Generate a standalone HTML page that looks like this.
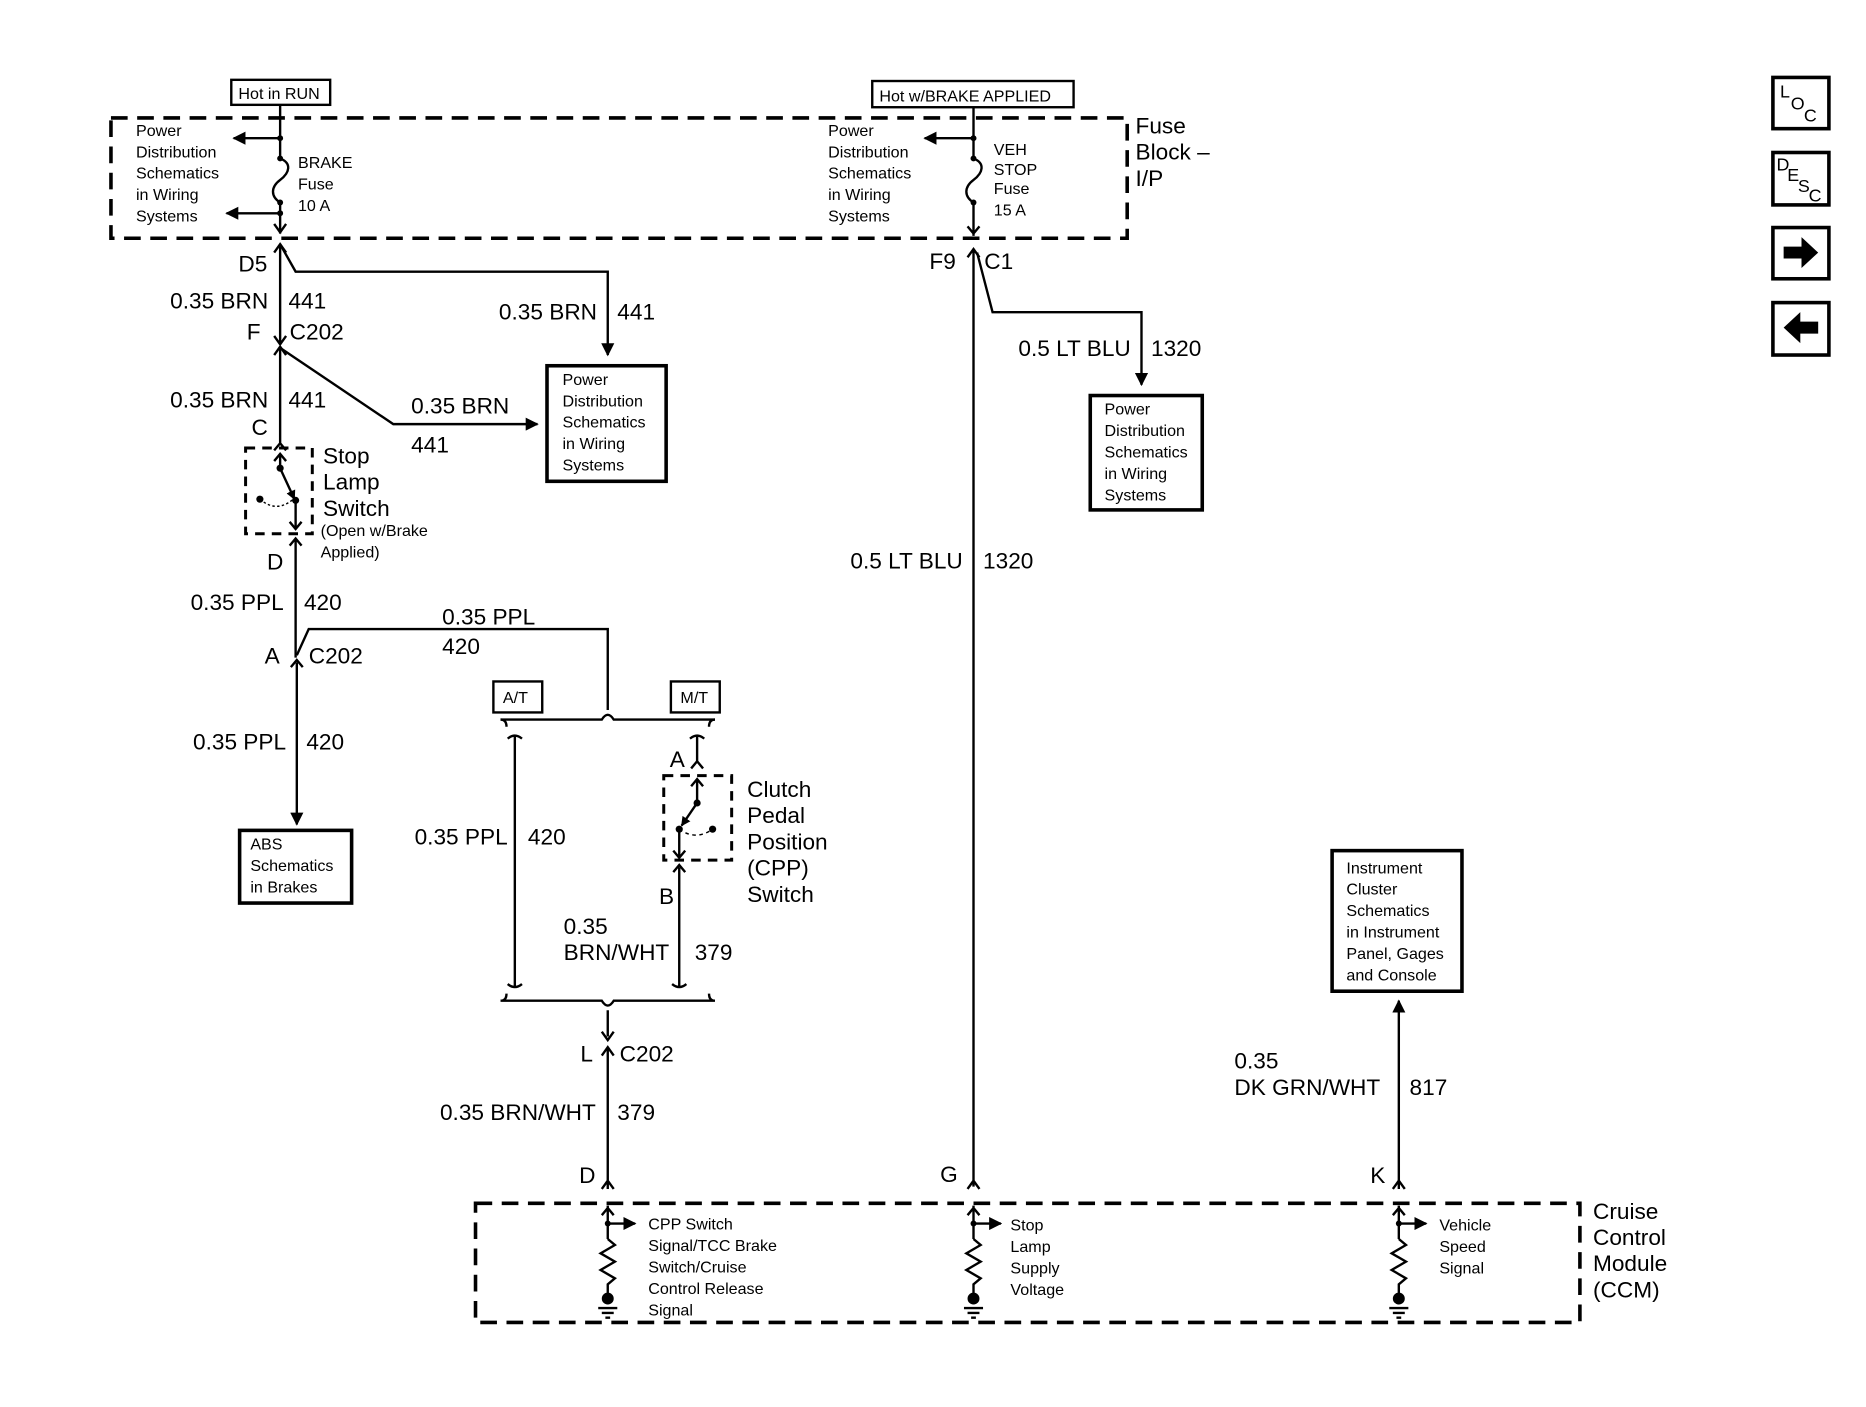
<!DOCTYPE html>
<html><head><meta charset="utf-8"><style>
html,body{margin:0;padding:0;background:#fff;}
svg{display:block;font-family:"Liberation Sans",Arial,sans-serif;}
.b{font-size:19px}
.s{font-size:13.5px}
</style></head><body>
<svg width="1866" height="1407" viewBox="0 0 1566 1181" xmlns="http://www.w3.org/2000/svg">
<defs>
<marker id="ar" viewBox="0 0 10 10" refX="9" refY="5" markerWidth="11" markerHeight="11" markerUnits="userSpaceOnUse" orient="auto"><path d="M0,0L10,5L0,10z"/></marker>
<marker id="sa" viewBox="0 0 10 10" refX="9" refY="5" markerWidth="8" markerHeight="8" markerUnits="userSpaceOnUse" orient="auto"><path d="M0,0L10,5L0,10z"/></marker>
</defs>
<g fill="none" stroke="#000" stroke-width="2">
<rect x="194" y="67" width="83" height="21"/>
<rect x="732" y="68" width="169" height="22"/>
<rect x="93" y="99" width="853" height="101" stroke-width="3" stroke-dasharray="14,8"/>
<rect x="399" y="1010" width="927" height="100" stroke-width="3" stroke-dasharray="14,8"/>
<rect x="459" y="307" width="100" height="97" stroke-width="3"/>
<rect x="915" y="332" width="94" height="96" stroke-width="3"/>
<rect x="201" y="697" width="94" height="61" stroke-width="3"/>
<rect x="1118" y="714" width="109" height="118" stroke-width="3"/>
<rect x="414" y="572" width="41" height="26"/>
<rect x="563" y="572" width="41" height="26"/>
<rect x="206" y="376" width="56" height="72" stroke-dasharray="8,6" stroke-width="2.5"/>
<rect x="557" y="651" width="57" height="71" stroke-dasharray="8,6" stroke-width="2.5"/>
<path d="M235,88V133 M235,170V196"/>
<path d="M235,133c10,4 8,12 0,18c-8,6 -8,14 0,19"/>
<path d="M235,116H196" marker-end="url(#ar)"/>
<path d="M235,179H190" marker-end="url(#ar)"/>
<path d="M230,188l5,7l5,-7"/>
<path d="M230,212l5,-7l5,7"/>
<path d="M235,205V288 M230,282l5,7l5,-7 M230,298l5,-7l5,7"/>
<path d="M235,205l13,23H510V298" marker-end="url(#ar)"/>
<path d="M235,292l95,64H451" marker-end="url(#ar)"/>
<path d="M235,292V372 M230,378l5,-6l5,6"/>
<path d="M235,382V393 M230,387l5,-6l5,6"/>
<path d="M235,393L247,419" marker-end="url(#sa)"/>
<path d="M248,420V444 M243,438l5,6l5,-6 M243,458l5,-6l5,6 M248,452V552"/>
<path d="M218,419q14,12 28,0" stroke-dasharray="2,2" stroke-width="1.2"/>
<path d="M249,550l10,-22H510V596"/>
<path d="M244,560l5,-6l5,6 M249,556V692" marker-end="url(#ar)"/>
<path d="M420,604H505q5,-8 10,0H600"/>
<path d="M420,604q5,0 5,6 M600,604q-5,0 -5,6"/>
<path d="M432,618V828 M426,620q6,-5 12,0 M426,826q6,5 12,0"/>
<path d="M585,618V640 M579,620q6,-5 12,0 M580,645l5,-6l5,6"/>
<path d="M585,655V674 M580,660l5,-6l5,6"/>
<path d="M585,674L572,693" marker-end="url(#sa)"/>
<path d="M570,696V720 M565,714l5,6l5,-6 M565,732l5,-6l5,6 M570,728V828 M564,826q6,5 12,0"/>
<path d="M570,696q14,10 28,0" stroke-dasharray="3,3" stroke-width="1.2"/>
<path d="M420,840H505q5,8 10,0H600 M420,840q5,0 5,-6 M600,840q-5,0 -5,-6"/>
<path d="M510,848V870 M505,866l5,7l5,-7 M505,886l5,-7l5,7 M510,880V998 M505,998l5,-7l5,7"/>
<path d="M817,90V133 M817,170V198 M812,190l5,6l5,-6 M812,216l5,-7l5,7 M817,210V996 M812,998l5,-7l5,7"/>
<path d="M817,133c10,4 8,12 0,18c-8,6 -8,14 0,19"/>
<path d="M817,116H776" marker-end="url(#ar)"/>
<path d="M820,212l13,50H958V323" marker-end="url(#ar)"/>
<path d="M1174,998V840" marker-end="url(#ar)"/>
<path d="M1169,998l5,-7l5,7"/>
<g id="m">
<path d="M510,1012V1040 M505,1020l5,-6l5,6 M510,1027H533" marker-end="url(#ar)"/>
<path d="M510,1040l6,5l-12,7l12,7l-12,7l12,7l-6,5V1088 M502,1098H518 M505,1102H515 M508,1106H512"/>
</g>
<use href="#m" x="307"/>
<use href="#m" x="664"/>
<rect x="1488" y="65" width="47" height="43" stroke-width="3"/>
<rect x="1488" y="128" width="47" height="44" stroke-width="3"/>
<rect x="1488" y="191" width="47" height="43" stroke-width="3"/>
<rect x="1488" y="254" width="47" height="44" stroke-width="3"/>
</g>
<g fill="#000">
<circle cx="235" cy="116" r="2.5"/><circle cx="235" cy="133" r="2.5"/><circle cx="235" cy="170" r="2.5"/><circle cx="235" cy="179" r="2.5"/>
<circle cx="817" cy="116" r="2.5"/><circle cx="817" cy="133" r="2.5"/><circle cx="817" cy="170" r="2.5"/>
<circle cx="235" cy="393" r="3"/><circle cx="248" cy="420" r="3"/><circle cx="218" cy="419" r="3"/>
<circle cx="585" cy="674" r="3"/><circle cx="570" cy="696" r="3"/><circle cx="598" cy="696" r="3"/>
<circle cx="510" cy="1027" r="2.5"/><circle cx="510" cy="1090" r="5"/>
<circle cx="817" cy="1027" r="2.5"/><circle cx="817" cy="1090" r="5"/>
<circle cx="1174" cy="1027" r="2.5"/><circle cx="1174" cy="1090" r="5"/>
<path d="M1497,207h15v-8l14,13l-14,13v-8h-15z"/>
<path d="M1526,270h-15v-8l-14,13l14,13v-8h15z"/>
</g>
<g class="s">
<text x="200" y="83">Hot in RUN</text>
<text x="738" y="85">Hot w/BRAKE APPLIED</text>
<text x="114" y="114">Power</text><text x="114" y="132">Distribution</text><text x="114" y="150">Schematics</text><text x="114" y="168">in Wiring</text><text x="114" y="186">Systems</text>
<text x="250" y="141">BRAKE</text><text x="250" y="159">Fuse</text><text x="250" y="177">10 A</text>
<text x="695" y="114">Power</text><text x="695" y="132">Distribution</text><text x="695" y="150">Schematics</text><text x="695" y="168">in Wiring</text><text x="695" y="186">Systems</text>
<text x="834" y="130">VEH</text><text x="834" y="147">STOP</text><text x="834" y="163">Fuse</text><text x="834" y="181">15 A</text>
<text x="472" y="323">Power</text><text x="472" y="341">Distribution</text><text x="472" y="359">Schematics</text><text x="472" y="377">in Wiring</text><text x="472" y="395">Systems</text>
<text x="927" y="348">Power</text><text x="927" y="366">Distribution</text><text x="927" y="384">Schematics</text><text x="927" y="402">in Wiring</text><text x="927" y="420">Systems</text>
<text x="210" y="713">ABS</text><text x="210" y="731">Schematics</text><text x="210" y="749">in Brakes</text>
<text x="1130" y="733">Instrument</text><text x="1130" y="751">Cluster</text><text x="1130" y="769">Schematics</text><text x="1130" y="787">in Instrument</text><text x="1130" y="805">Panel, Gages</text><text x="1130" y="823">and Console</text>
<text x="269" y="450">(Open w/Brake</text><text x="269" y="468">Applied)</text>
<text x="422" y="590">A/T</text><text x="571" y="590">M/T</text>
<text x="544" y="1032">CPP Switch</text><text x="544" y="1050">Signal/TCC Brake</text><text x="544" y="1068">Switch/Cruise</text><text x="544" y="1086">Control Release</text><text x="544" y="1104">Signal</text>
<text x="848" y="1033">Stop</text><text x="848" y="1051">Lamp</text><text x="848" y="1069">Supply</text><text x="848" y="1087">Voltage</text>
<text x="1208" y="1033">Vehicle</text><text x="1208" y="1051">Speed</text><text x="1208" y="1069">Signal</text>
</g>
<g class="b">
<text x="953" y="112">Fuse</text><text x="953" y="134">Block –</text><text x="953" y="156">I/P</text>
<text x="200" y="228">D5</text>
<text x="225" y="259" text-anchor="end">0.35 BRN</text><text x="242" y="259">441</text>
<text x="207" y="285">F</text><text x="243" y="285">C202</text>
<text x="501" y="268" text-anchor="end">0.35 BRN</text><text x="518" y="268">441</text>
<text x="225" y="342" text-anchor="end">0.35 BRN</text><text x="242" y="342">441</text>
<text x="345" y="347">0.35 BRN</text><text x="345" y="380">441</text>
<text x="211" y="365">C</text>
<text x="271" y="389">Stop</text><text x="271" y="411">Lamp</text><text x="271" y="433">Switch</text>
<text x="224" y="478">D</text>
<text x="238" y="512" text-anchor="end">0.35 PPL</text><text x="255" y="512">420</text>
<text x="371" y="524">0.35 PPL</text><text x="371" y="549">420</text>
<text x="222" y="557">A</text><text x="259" y="557">C202</text>
<text x="240" y="629" text-anchor="end">0.35 PPL</text><text x="257" y="629">420</text>
<text x="426" y="709" text-anchor="end">0.35 PPL</text><text x="443" y="709">420</text>
<text x="562" y="644">A</text>
<text x="627" y="669">Clutch</text><text x="627" y="691">Pedal</text><text x="627" y="713">Position</text><text x="627" y="735">(CPP)</text><text x="627" y="757">Switch</text>
<text x="553" y="759">B</text>
<text x="473" y="784">0.35</text><text x="473" y="806">BRN/WHT</text><text x="583" y="806">379</text>
<text x="487" y="891">L</text><text x="520" y="891">C202</text>
<text x="500" y="940" text-anchor="end">0.35 BRN/WHT</text><text x="518" y="940">379</text>
<text x="486" y="993">D</text>
<text x="780" y="226">F9</text><text x="826" y="226">C1</text>
<text x="949" y="299" text-anchor="end">0.5 LT BLU</text><text x="966" y="299">1320</text>
<text x="808" y="477" text-anchor="end">0.5 LT BLU</text><text x="825" y="477">1320</text>
<text x="789" y="992">G</text>
<text x="1036" y="897">0.35</text><text x="1036" y="919">DK GRN/WHT</text><text x="1183" y="919">817</text>
<text x="1150" y="993">K</text>
<text x="1337" y="1023">Cruise</text><text x="1337" y="1045">Control</text><text x="1337" y="1067">Module</text><text x="1337" y="1089">(CCM)</text>
</g>
<g font-size="15">
<text x="1494" y="82">L</text><text x="1503" y="92">O</text><text x="1514" y="102">C</text>
<text x="1491" y="143">D</text><text x="1500" y="152">E</text><text x="1509" y="161">S</text><text x="1518" y="169">C</text>
</g>
</svg>
</body></html>
